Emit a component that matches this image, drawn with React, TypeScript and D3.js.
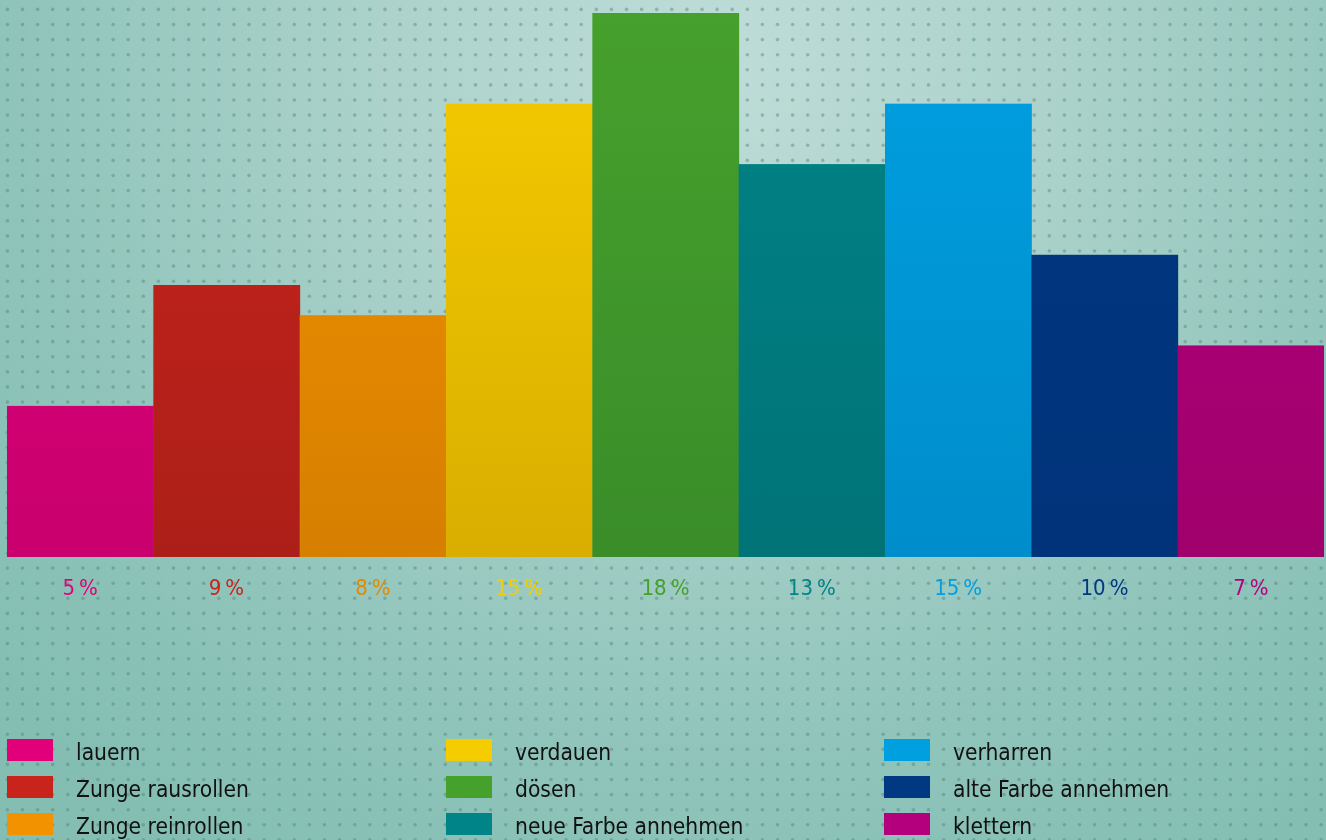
import React from "react";
import * as d3 from "d3";

const categories = [
  "lauern",
  "Zunge rausrollen",
  "Zunge reinrollen",
  "verdauen",
  "dösen",
  "neue Farbe annehmen",
  "verharren",
  "alte Farbe annehmen",
  "klettern",
];
const values = [5, 9, 8, 15, 18, 13, 15, 10, 7];
const valueLabels = ["5\u2009%", "9\u2009%", "8\u2009%", "15\u2009%", "18\u2009%", "13\u2009%", "15\u2009%", "10\u2009%", "7\u2009%"];
const topColors = ["#e2007a", "#c8241c", "#f39200", "#f5cc00", "#46a02c", "#008488", "#009fe0", "#003882", "#b5007e"];
const bottomColors = ["#c9006e", "#ac1f18", "#d67f00", "#d9ae00", "#3a8d29", "#007377", "#008dcb", "#00337a", "#a0006c"];
const labelColors = ["#e2007a", "#c8241c", "#e08a00", "#f5cc00", "#46a02c", "#008488", "#009fe0", "#003882", "#b5007e"];

const W = 1326;
const H = 840;
const FONT = "'DejaVu Sans Condensed', 'Liberation Sans Narrow', 'DejaVu Sans', sans-serif";

export default function App() {
  const x = d3.scaleBand<string>().domain(categories).range([7, 1324]).padding(0);
  const y = d3.scaleLinear().domain([0, 18]).range([557, 13]);

  const dotsX = d3.range(7.4, W, 15.1);
  const dotsY = d3.range(9.4, H, 15.1);

  const legendCols = [7, 446, 884];
  const legendRows = [739, 776, 813];

  return (
    <div style={{ position: "fixed", left: 0, top: 0, width: W, height: H }}>
      <svg width={W} height={H} style={{ display: "block" }}>
        <defs>
          <radialGradient id="bg" gradientUnits="userSpaceOnUse" cx={720} cy={60} r={950} fx={720} fy={60}>
            <stop offset="0" stopColor="#bfddd8" />
            <stop offset="0.35" stopColor="#acd2cb" />
            <stop offset="0.75" stopColor="#8fc4ba" />
            <stop offset="1" stopColor="#84beb3" />
          </radialGradient>
          {categories.map((c, i) => (
            <linearGradient key={c} id={`g${i}`} gradientUnits="userSpaceOnUse" x1={0} y1={13} x2={0} y2={557}>
              <stop offset="0" stopColor={topColors[i]} />
              <stop offset="1" stopColor={bottomColors[i]} />
            </linearGradient>
          ))}
        </defs>
        <rect x={0} y={0} width={W} height={H} fill="url(#bg)" />
        <g fill="#4a7f7a" fillOpacity={0.42}>
          {dotsY.map((dy) =>
            dotsX.map((dx) => <circle key={`${dx}-${dy}`} cx={dx} cy={dy} r={1.8} />)
          )}
        </g>
        <g>
          {categories.map((c, i) => (
            <rect
              key={c}
              x={x(c)!}
              y={y(values[i])}
              width={x.bandwidth() + (i < categories.length - 1 ? 0.5 : 0)}
              height={y(0) - y(values[i])}
              fill={`url(#g${i})`}
            />
          ))}
        </g>
        <g fontFamily={FONT} fontSize={22} fontWeight={500} textAnchor="middle" style={{ fontStretch: "condensed" }}>
          {categories.map((c, i) => (
            <text key={c} x={x(c)! + x.bandwidth() / 2} y={595} fill={labelColors[i]}>
              {valueLabels[i]}
            </text>
          ))}
        </g>
        <g fontFamily={FONT} fontSize={22.6} fill="#111" style={{ fontStretch: "condensed" }}>
          {categories.map((c, i) => {
            const col = Math.floor(i / 3);
            const row = i % 3;
            const lx = legendCols[col];
            const ly = legendRows[row];
            return (
              <g key={c}>
                <rect x={lx} y={ly} width={46} height={22} fill={topColors[i]} />
                <text x={lx + 69} y={ly + 21}>
                  {c}
                </text>
              </g>
            );
          })}
        </g>
      </svg>
    </div>
  );
}
